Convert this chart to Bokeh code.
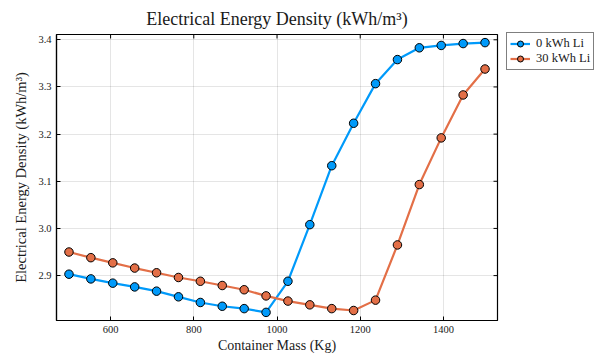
import math
from bokeh.plotting import figure
from bokeh.models import Range1d, Legend, LegendItem, FixedTicker, CustomJSTickFormatter
from bokeh.embed import file_html
from bokeh.resources import INLINE

# ---- data ----
mass = [500.0, 552.6, 605.3, 657.9, 710.5, 763.2, 815.8, 868.4, 921.1, 973.7,
        1026.3, 1078.9, 1131.6, 1184.2, 1236.8, 1289.5, 1342.1, 1394.7, 1447.4, 1500.0]
li_0 = [2.903, 2.893, 2.884, 2.876, 2.867, 2.855, 2.843, 2.835, 2.830, 2.822,
        2.888, 3.008, 3.133, 3.223, 3.307, 3.358, 3.383, 3.388, 3.392, 3.394]
li_30 = [2.950, 2.938, 2.927, 2.916, 2.906, 2.896, 2.888, 2.879, 2.870, 2.857,
         2.846, 2.838, 2.830, 2.826, 2.848, 2.965, 3.093, 3.192, 3.283, 3.338]
series_names = ["0 kWh Li", "30 kWh Li"]
x_ticks = [600, 800, 1000, 1200, 1400]
y_ticks = [2.9, 3.0, 3.1, 3.2, 3.3, 3.4]
x_lim = (470, 1530)
y_lim = (2.8048, 3.4112)

FONT = "Liberation Serif"
TXT = "#1a1a1a"
BLUE = "#009AFA"
ORANGE = "#E36F47"

FW, FH = 441, 286

p = figure(frame_width=FW, frame_height=FH, output_backend="svg", toolbar_location=None,
           x_range=Range1d(*x_lim), y_range=Range1d(*y_lim),
           min_border_left=56, min_border_right=103, min_border_top=33,
           min_border_bottom=40, title="Electrical Energy Density (kWh/m³)")
p.title.text_font = FONT
p.title.text_font_size = "18px"
p.title.text_font_style = "normal"
p.title.text_color = TXT
p.title.align = "center"
p.title.standoff = 12

p.outline_line_color = "black"
p.outline_line_width = 1.2
p.background_fill_color = "white"
p.border_fill_color = "white"

for ax, ticks in ((p.xaxis[0], x_ticks), (p.yaxis[0], y_ticks)):
    ax.ticker = FixedTicker(ticks=ticks)
    ax.major_tick_in = 4
    ax.major_tick_out = 0
    ax.minor_tick_line_color = None
    ax.axis_line_color = "black"
    ax.axis_line_width = 1.2
    ax.major_tick_line_color = "black"
    ax.major_label_text_font = FONT
    ax.major_label_text_font_size = "10.5px"
    ax.major_label_text_color = TXT
    ax.major_label_standoff = 5
    ax.axis_label_text_font = FONT
    ax.axis_label_text_font_size = "14px"
    ax.axis_label_text_font_style = "normal"
    ax.axis_label_text_color = TXT
p.xaxis.axis_label = "Container Mass (Kg)"
p.yaxis.axis_label = "Electrical Energy Density (kWh/m³)"
p.yaxis.axis_label_text_font_size = "14.5px"
p.xaxis.axis_label_standoff = 2
p.yaxis.axis_label_standoff = 6
p.yaxis.formatter = CustomJSTickFormatter(code="return tick.toFixed(1)")

p.xgrid.ticker = FixedTicker(ticks=x_ticks)
p.ygrid.ticker = FixedTicker(ticks=y_ticks)
p.grid.grid_line_color = "black"
p.grid.grid_line_alpha = 0.1
p.grid.grid_line_width = 1

# mirrored inner ticks on the top and right frame edges (half of each dash is clipped)
p.scatter(x_ticks, [y_lim[1]] * len(x_ticks), marker="dash", angle=math.pi / 2,
          size=8, line_color="black", line_width=1)
p.scatter([x_lim[1]] * len(y_ticks), y_ticks, marker="dash",
          size=8, line_color="black", line_width=1)

items = []
for ys, color, name in ((li_0, BLUE, series_names[0]), (li_30, ORANGE, series_names[1])):
    ln = p.line(mass, ys, line_color=color, line_width=2.2)
    sc = p.scatter(mass, ys, size=8.5, fill_color=color, line_color="black", line_width=1)
    items.append(LegendItem(label=name, renderers=[ln, sc]))

LH = 36
legend = Legend(items=items, location=(9, FH - LH), margin=0, padding=3, spacing=0,
                glyph_width=20, glyph_height=15, label_height=15, label_standoff=6,
                label_text_font=FONT, label_text_font_size="12.5px", label_text_color=TXT,
                border_line_color="black", border_line_width=1.2,
                background_fill_color="white")
p.add_layout(legend, "right")

open("out.html", "w").write(file_html(p, INLINE))
